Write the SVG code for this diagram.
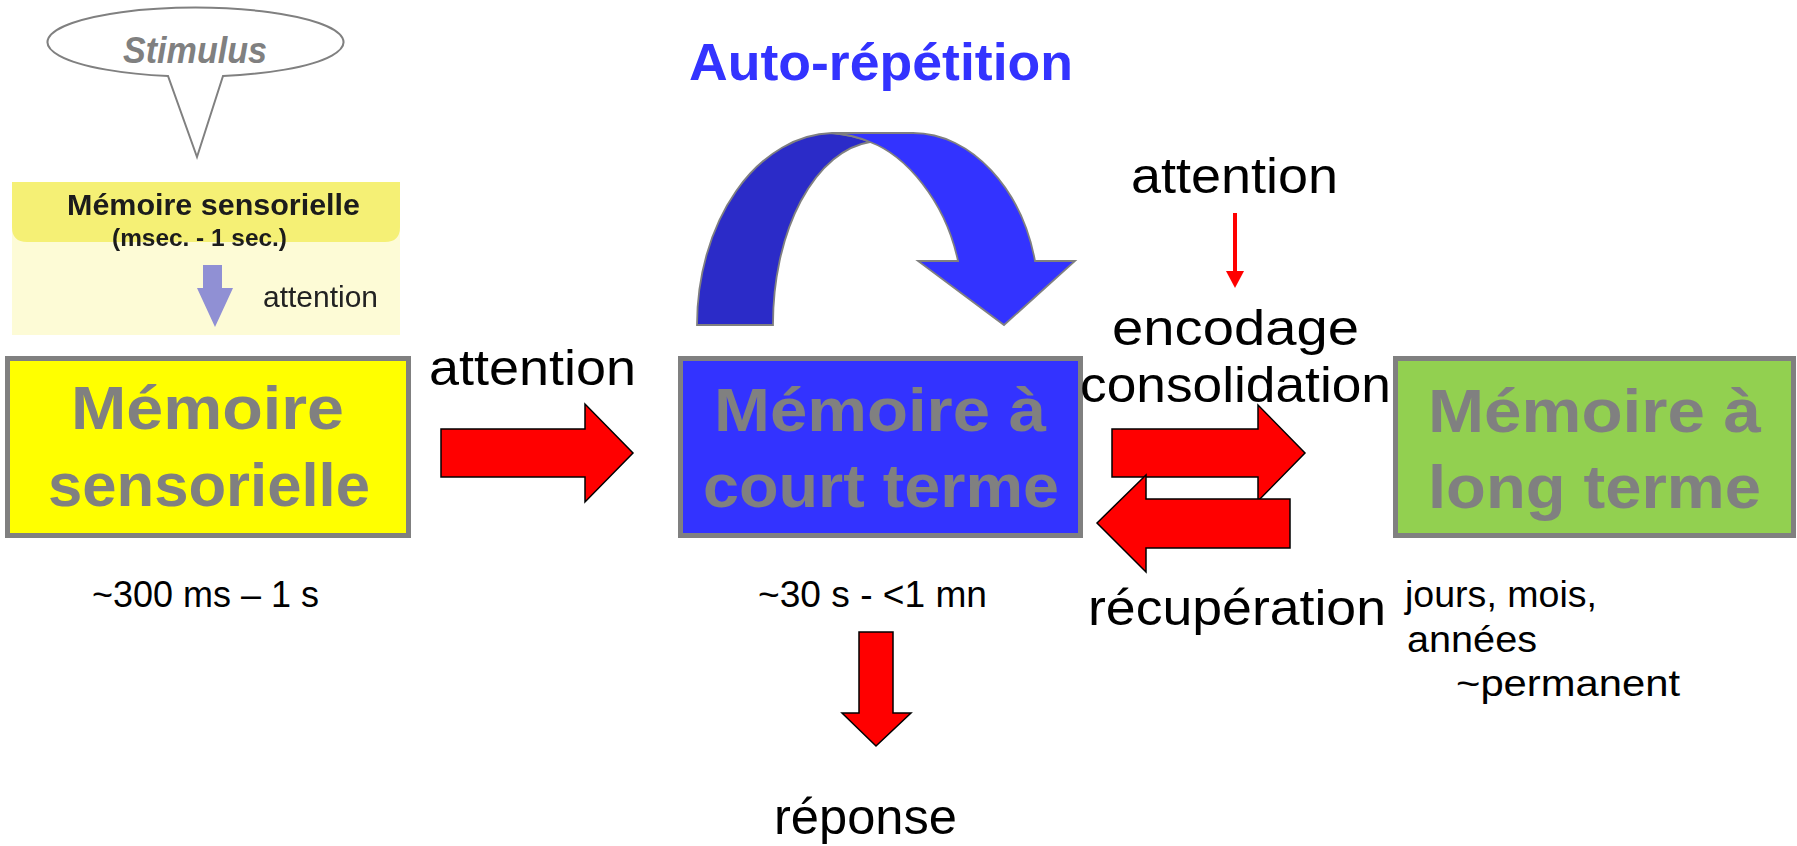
<svg xmlns="http://www.w3.org/2000/svg" width="1797" height="846" viewBox="0 0 1797 846">
  <defs>
    <style>
      text { font-family: "Liberation Sans", Arial, sans-serif; }
      .box { stroke: #808080; stroke-width: 5; }
      .title { font-size: 62px; font-weight: bold; fill: #808080; }
      .label { font-size: 50px; fill: #000; }
      .small { font-size: 36px; fill: #000; }
      .red { fill: #ff0000; stroke: #000; stroke-width: 1.5; stroke-linejoin: miter; }
      .loop { stroke: #808080; stroke-width: 1.8; stroke-linejoin: miter; }
    </style>
    <filter id="soft" x="-5%" y="-5%" width="110%" height="110%">
      <feGaussianBlur stdDeviation="0.6"/>
    </filter>
  </defs>

  <rect width="1797" height="846" fill="#ffffff"/>

  <!-- speech bubble -->
  <g id="stimulus">
    <path d="M223,76 L197,157 L168,76 A148,34.5 0 1 1 223,76 Z" fill="#ffffff" stroke="#808080" stroke-width="2"/>
    <text x="123" y="63" textLength="144" lengthAdjust="spacingAndGlyphs" font-size="36" font-weight="bold" font-style="italic" fill="#808080">Stimulus</text>
  </g>

  <!-- inset panel: sensory memory card -->
  <g id="inset" filter="url(#soft)">
    <rect x="12" y="182" width="388" height="153" fill="#fdfbd6"/>
    <path d="M12,182 H400 V227 Q400,242 385,242 H27 Q12,242 12,227 Z" fill="#f5f075"/>
    <text x="67" y="215" textLength="293" lengthAdjust="spacingAndGlyphs" font-size="30" font-weight="bold" fill="#1a1a1a">Mémoire sensorielle</text>
    <text x="112" y="246" textLength="175" lengthAdjust="spacingAndGlyphs" font-size="23" font-weight="bold" fill="#1a1a1a">(msec. - 1 sec.)</text>
    <path d="M203,265 H222 V288 H233 L215,327 L197,288 H203 Z" fill="#9090d4"/>
    <text x="263" y="307" textLength="115" lengthAdjust="spacingAndGlyphs" font-size="29" fill="#222222">attention</text>
  </g>

  <!-- title above the loop -->
  <g id="auto-repetition">
    <text x="689" y="80" textLength="384" lengthAdjust="spacingAndGlyphs" font-size="52" font-weight="bold" fill="#3333ff">Auto-répétition</text>
    <path class="loop" fill="#2b2bc8" d="M697,325 A138,192 0 0 1 832,133 C845,134 858,137 870,142 A107,183 0 0 0 773,325 Z"/>
    <path class="loop" fill="#3333ff" d="M832,133 H913 C972,133 1022,190 1035,261 H1075 L1004,325 L918,261 H958 C945,200 905,155 870,142 C858,137 845,134 832,133 Z"/>
  </g>

  <!-- memory stores -->
  <g id="sensory">
    <rect class="box" x="7.5" y="358.5" width="401" height="177" fill="#ffff00"/>
    <text class="title" x="71" y="429" textLength="273" lengthAdjust="spacingAndGlyphs">Mémoire</text>
    <text class="title" x="48" y="506" textLength="322" lengthAdjust="spacingAndGlyphs">sensorielle</text>
    <text class="small" x="92" y="607" textLength="227" lengthAdjust="spacingAndGlyphs">~300 ms – 1 s</text>
  </g>

  <g id="short-term">
    <rect class="box" x="680.5" y="358.5" width="400" height="177" fill="#3333ff"/>
    <text class="title" x="714" y="431" textLength="332" lengthAdjust="spacingAndGlyphs">Mémoire à</text>
    <text class="title" x="703" y="507" textLength="356" lengthAdjust="spacingAndGlyphs">court terme</text>
    <text class="small" x="758" y="607" textLength="229" lengthAdjust="spacingAndGlyphs">~30 s - &lt;1 mn</text>
  </g>

  <g id="long-term">
    <rect class="box" x="1395.5" y="358.5" width="398" height="177" fill="#92d050"/>
    <text class="title" x="1428" y="432" textLength="333" lengthAdjust="spacingAndGlyphs">Mémoire à</text>
    <text class="title" x="1428" y="508" textLength="333" lengthAdjust="spacingAndGlyphs">long terme</text>
    <text class="small" x="1405" y="607" textLength="192" lengthAdjust="spacingAndGlyphs">jours, mois,</text>
    <text class="small" x="1407" y="652" textLength="130" lengthAdjust="spacingAndGlyphs">années</text>
    <text class="small" x="1456" y="696" textLength="224" lengthAdjust="spacingAndGlyphs">~permanent</text>
  </g>

  <g id="response">
    <text class="label" x="774" y="834" textLength="183" lengthAdjust="spacingAndGlyphs">réponse</text>
  </g>

  <!-- connectors -->
  <g id="connectors">
    <text class="label" x="429" y="385" textLength="207" lengthAdjust="spacingAndGlyphs">attention</text>
    <path class="red" d="M441,429 H585 V404 L633,453 L585,502 V477 H441 Z"/>

    <text class="label" x="1131" y="193" textLength="207" lengthAdjust="spacingAndGlyphs">attention</text>
    <line x1="1235" y1="213" x2="1235" y2="273" stroke="#ff0000" stroke-width="4"/>
    <path d="M1226,271 H1244 L1235,288 Z" fill="#ff0000"/>

    <text class="label" x="1112" y="345" textLength="247" lengthAdjust="spacingAndGlyphs">encodage</text>
    <text class="label" x="1080" y="402" textLength="311" lengthAdjust="spacingAndGlyphs">consolidation</text>
    <path class="red" d="M1112,429 H1258 V405 L1305,453 L1258,501 V477 H1112 Z"/>
    <path class="red" d="M1097,523 L1146,475 V499 H1290 V548 H1146 V572 Z"/>
    <text class="label" x="1088" y="625" textLength="298" lengthAdjust="spacingAndGlyphs">récupération</text>

    <path class="red" d="M859,632 H893 V713 H911 L876,746 L842,713 H859 Z"/>
  </g>
</svg>
